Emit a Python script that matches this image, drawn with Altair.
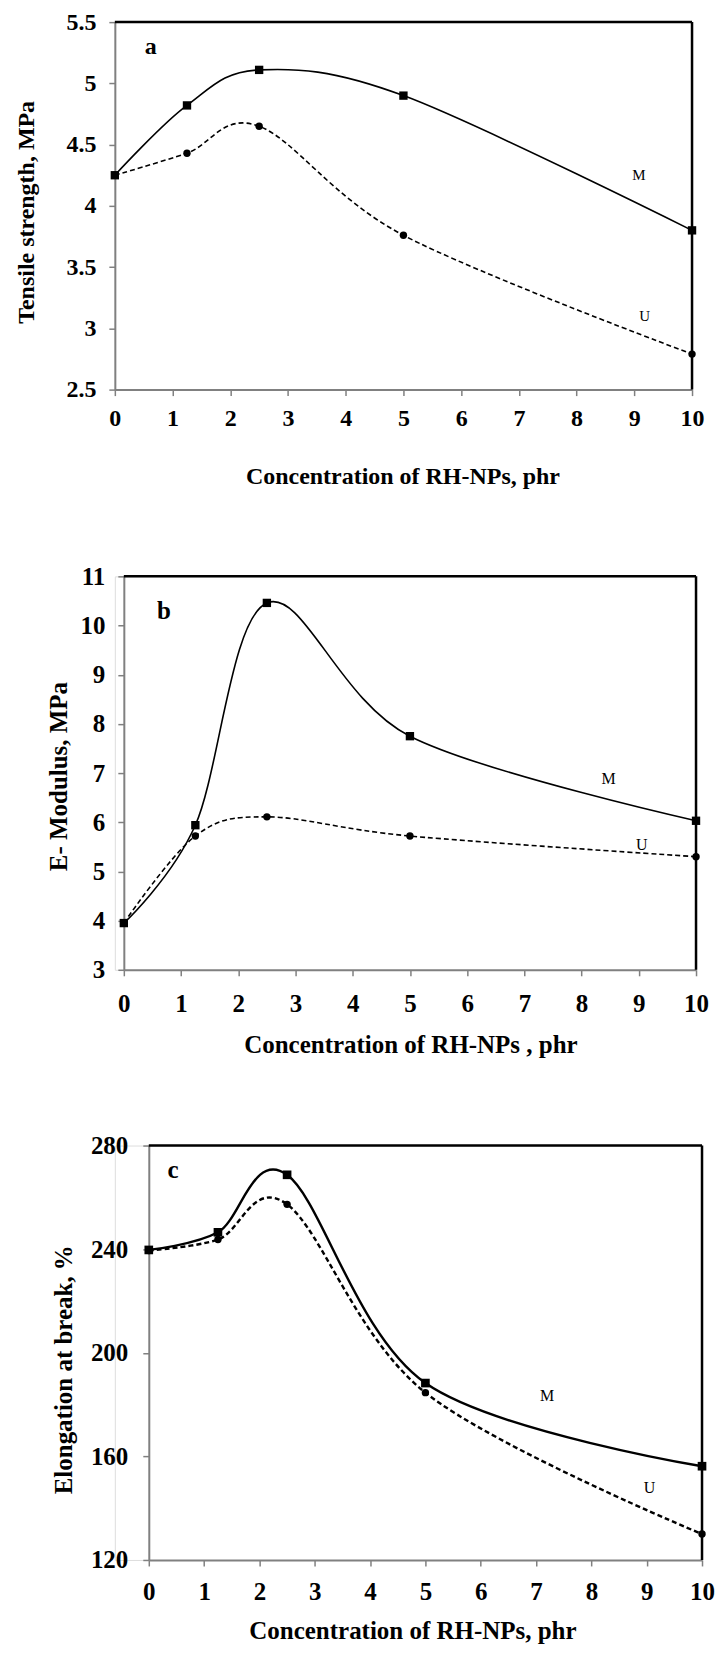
import altair as alt
import pandas as pd

FONT = "Liberation Serif"

# ---------------- data ----------------
conc = [0, 1.25, 2.5, 5, 10]
x_ticks = [0, 1, 2, 3, 4, 5, 6, 7, 8, 9, 10]
x_domain = [0, 10]

# (a) Tensile strength, MPa
ts_M = [4.25, 4.82, 5.11, 4.90, 3.80]
ts_U = [4.25, 4.43, 4.65, 3.76, 2.79]
ts_ticks = [2.5, 3, 3.5, 4, 4.5, 5, 5.5]

# (b) E- Modulus, MPa
em_M = [3.95, 5.94, 10.46, 7.75, 6.03]
em_U = [3.95, 5.72, 6.11, 5.72, 5.30]
em_ticks = [3, 4, 5, 6, 7, 8, 9, 10, 11]

# (c) Elongation at break, %
eb_M = [239.7, 246.5, 268.7, 188.3, 156.2]
eb_U = [239.5, 243.7, 257.3, 184.6, 130.0]
eb_ticks = [120, 160, 200, 240, 280]

series_names = ["M", "U"]

# label positions (data coords): letter, M, U
a_lbl_x = [0.62, 9.08, 9.18]
a_lbl_y = [5.30, 4.25, 3.10]
b_lbl_x = [0.70, 8.47, 9.05]
b_lbl_y = [10.29, 6.88, 5.54]
c_lbl_x = [0.44, 7.20, 9.05]
c_lbl_y = [270.7, 183.2, 147.6]


def panel(M, U, yticks, ytitle, xtitle, letter, lbl_x, lbl_y, cfg):
    xdom = x_domain
    ydom = [yticks[0], yticks[-1]]
    xscale = alt.Scale(domain=xdom, range=[cfg["shift"], cfg["width"]], nice=False, zero=False)
    yscale = alt.Scale(domain=ydom, nice=False, zero=False)
    common = dict(grid=False, format=".6~g",
                  domainColor="#808080", domainWidth=2, tickColor="#808080",
                  tickWidth=1.5, tickSize=6, labelFont=FONT, labelFontWeight="bold",
                  labelFontSize=cfg["tick_fs"], labelColor="black", labelFlush=False,
                  titleFont=FONT, titleFontWeight="bold", titleFontSize=cfg["title_fs"],
                  titleColor="black", titleBaseline="middle", titleAlign="center")
    xaxis = alt.Axis(values=x_ticks, title=xtitle, labelPadding=cfg["xlabpad"],
                     titleX=cfg["xtitle_x"], titleY=cfg["xtitle_y"], **common)
    yaxis = alt.Axis(values=yticks, title=ytitle, offset=-cfg["shift"],
                     labelPadding=cfg["ylabpad"], titleX=cfg["ytitle_x"],
                     titleY=cfg["ytitle_y"], titleAngle=-90, **common)

    def X(f):
        return alt.X(f, type="quantitative", scale=xscale, axis=xaxis)

    def Y(f):
        return alt.Y(f, type="quantitative", scale=yscale, axis=yaxis)

    dM = pd.DataFrame({"x": conc, "y": M})
    dU = pd.DataFrame({"x": conc, "y": U})
    border = pd.DataFrame({"x0": [xdom[0]], "x1": [xdom[1]], "y0": [ydom[0]], "y1": [ydom[1]]})
    letters = pd.DataFrame({"x": [lbl_x[0]], "y": [lbl_y[0]], "t": [letter]})
    names = pd.DataFrame({"x": lbl_x[1:], "y": lbl_y[1:], "t": series_names})

    top = alt.Chart(border).mark_rule(color="black", strokeWidth=2.5).encode(
        x=X("x0"), x2="x1", y=Y("y1"))
    right = alt.Chart(border).mark_rule(color="black", strokeWidth=2.5).encode(
        x=X("x1"), y=Y("y0"), y2="y1")
    lineU = alt.Chart(dU).mark_line(interpolate="cardinal", tension=0, color="black",
                                    strokeWidth=cfg["lw"], strokeDash=[5, 3]).encode(x=X("x"), y=Y("y"))
    lineM = alt.Chart(dM).mark_line(interpolate="cardinal", tension=0, color="black",
                                    strokeWidth=cfg["lw"]).encode(x=X("x"), y=Y("y"))
    ptsU = alt.Chart(dU).mark_point(shape="circle", filled=True, size=cfg["csize"],
                                    color="black", opacity=1).encode(x=X("x"), y=Y("y"))
    ptsM = alt.Chart(dM).mark_point(shape="square", filled=True, size=cfg["ssize"],
                                    color="black", opacity=1).encode(x=X("x"), y=Y("y"))
    txtL = alt.Chart(letters).mark_text(font=FONT, fontWeight="bold", fontSize=cfg["letter_fs"],
                                        color="black").encode(x=X("x"), y=Y("y"), text="t:N")
    txtN = alt.Chart(names).mark_text(font=FONT, fontSize=cfg["name_fs"],
                                      color="black").encode(x=X("x"), y=Y("y"), text="t:N")
    return alt.layer(top, right, lineU, lineM, ptsU, ptsM, txtL, txtN).properties(
        width=cfg["width"], height=cfg["height"])


cfg_a = dict(shift=0, width=578, height=368, tick_fs=24, title_fs=24, xlabpad=11, ylabpad=13,
             xtitle_x=288, xtitle_y=87, ytitle_x=-88, ytitle_y=190, lw=1.6, csize=55, ssize=70,
             letter_fs=24, name_fs=15)
cfg_b = dict(shift=9, width=582, height=394, tick_fs=25, title_fs=25, xlabpad=16, ylabpad=13,
             xtitle_x=296, xtitle_y=75, ytitle_x=-65, ytitle_y=200, lw=1.6, csize=55, ssize=70,
             letter_fs=25, name_fs=16)
cfg_c = dict(shift=34, width=588, height=415, tick_fs=25, title_fs=25, xlabpad=14, ylabpad=15,
             xtitle_x=298, xtitle_y=71, ytitle_x=-85, ytitle_y=224, lw=2.4, csize=55, ssize=75,
             letter_fs=25, name_fs=16)

pa = panel(ts_M, ts_U, ts_ticks, "Tensile strength, MPa", "Concentration of RH-NPs, phr", "a",
           a_lbl_x, a_lbl_y, cfg_a)
pb = panel(em_M, em_U, em_ticks, "E- Modulus, MPa", "Concentration of RH-NPs , phr", "b",
           b_lbl_x, b_lbl_y, cfg_b)
pc = panel(eb_M, eb_U, eb_ticks, "Elongation  at  break,  %", "Concentration of RH-NPs, phr", "c",
           c_lbl_x, c_lbl_y, cfg_c)

chart = alt.vconcat(pa, pb, pc, spacing=74).resolve_scale(x="independent", y="independent").properties(
    padding={"left": 14, "top": 8, "right": 0, "bottom": 0}
).configure_view(stroke=None).configure(background="white")

chart.save("out.html", embed_options={"renderer": "svg", "actions": False})
